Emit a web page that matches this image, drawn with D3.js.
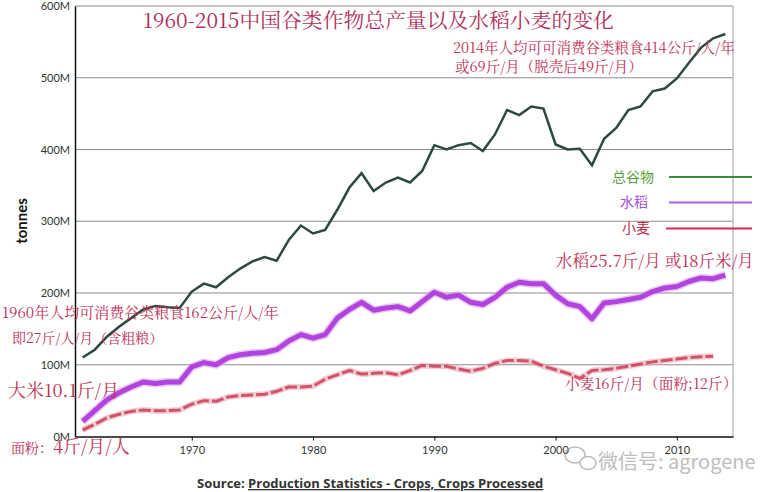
<!DOCTYPE html>
<html><head><meta charset="utf-8">
<script src="https://cdn.jsdelivr.net/npm/d3@7"></script>
<style>
html,body{margin:0;padding:0;background:#fff;}
svg{display:block;}
</style></head>
<body>
<svg id="chart" width="772" height="492"></svg>
<script>
const years = d3.range(1961, 2015);
const totalCereals = [110,121,139,153,165,177,182,180,179,202,213,208,222,234,244,250,245,274,294,283,288,316,347,367,342,354,361,354,370,406,400,406,409,398,421,455,448,460,457,407,400,401,378,415,430,455,460,481,485,499,521,542,555,561];
const rice = [21,36,51,61,69,76,74,76,76,97,103,100,110,114,116,117,121,133,142,137,142,165,177,187,176,179,181,175,188,201,194,197,187,184,194,208,215,213,213,197,185,181,164,186,188,191,194,202,207,209,216,221,220,225];
const wheatYears = d3.range(1961, 2014);
const wheat = [9,17,26,31,35,37,36,36,37,45,50,49,55,57,58,59,63,69,69,70,80,86,92,87,88,89,86,92,99,98,98,94,91,95,102,106,106,105,98,93,88,81,92,93,95,98,101,104,106,108,110,111,112];
const yTicks = [0,100,200,300,400,500,600];
const xTicks = [1970,1980,1990,2000,2010];
const legendLabels = ["总谷物","水稻","小麦"];

const svg = d3.select("#chart");
const L = 75, R = 733, T = 6, B = 436.5;
const x = d3.scaleLinear().domain([1960.37, 2014.63]).range([L, R]);
const y = d3.scaleLinear().domain([0, 600]).range([B, T]);

// gridlines
svg.append("g").selectAll("line").data(yTicks.filter(d => d > 0)).join("line")
  .attr("x1", L).attr("x2", R).attr("y1", d => y(d)).attr("y2", d => y(d))
  .attr("stroke", "#8c8c8c").attr("stroke-width", 1.2);
// right frame
svg.append("line").attr("x1", R).attr("x2", R).attr("y1", T).attr("y2", B)
  .attr("stroke", "#b0b0b0").attr("stroke-width", 1.2);

// axes
const yAxis = d3.axisLeft(y).tickValues(yTicks).tickFormat(d => d + "M").tickSize(0).tickPadding(5);
const gy = svg.append("g").attr("transform", `translate(${L},0)`).call(yAxis);
gy.select(".domain").attr("stroke", "#111").attr("stroke-width", 1.5);
gy.selectAll("text").attr("font-family", "Lato, sans-serif").attr("font-size", 11).attr("fill", "#333");

const xAxis = d3.axisBottom(x).tickValues(xTicks).tickFormat(d3.format("d")).tickSize(4).tickSizeOuter(0).tickPadding(6);
const gx = svg.append("g").attr("transform", `translate(0,${B})`).call(xAxis);
gx.select(".domain").attr("stroke", "#111").attr("stroke-width", 1.5);
gx.selectAll(".tick line").attr("stroke", "#111");
gx.selectAll("text").attr("font-family", "Lato, sans-serif").attr("font-size", 11).attr("fill", "#333");

// y title
svg.append("text").attr("transform", "translate(27,221) rotate(-90)")
  .attr("text-anchor", "middle").attr("font-family", "Lato, sans-serif")
  .attr("font-weight", "bold").attr("font-size", 15).attr("fill", "#111").text("tonnes");

const line = d3.line().x(d => x(d[0])).y(d => y(d[1]));
const totData = years.map((yr, i) => [yr, totalCereals[i]]);
const riceData = years.map((yr, i) => [yr, rice[i]]);
const wheatData = wheatYears.map((yr, i) => [yr, wheat[i]]);

// wheat
svg.append("path").datum(wheatData).attr("d", line).attr("fill", "none")
  .attr("stroke", "#eba3b2").attr("stroke-width", 6).attr("opacity", 0.55)
  .attr("stroke-linejoin", "round");
svg.append("path").datum(wheatData).attr("d", line).attr("fill", "none")
  .attr("stroke", "#c8344d").attr("stroke-width", 3).attr("stroke-dasharray", "12,3")
  .attr("opacity", 0.8).attr("stroke-linejoin", "round");
// rice
svg.append("path").datum(riceData).attr("d", line).attr("fill", "none")
  .attr("stroke", "#dda2f2").attr("stroke-width", 8).attr("opacity", 0.6)
  .attr("stroke-linejoin", "round");
svg.append("path").datum(riceData).attr("d", line).attr("fill", "none")
  .attr("stroke", "#b044dc").attr("stroke-width", 5).attr("stroke-linejoin", "round");
// total
svg.append("path").datum(totData).attr("d", line).attr("fill", "none")
  .attr("stroke", "#2c4a3e").attr("stroke-width", 2.5).attr("stroke-linejoin", "miter");

// legend
const legColors = ["#3a8a3a", "#b060e0", "#d02a50"];
const legText = ["#5aa03a", "#a050d8", "#c02848"];
const legY = [177, 202.5, 228.5];
const legTx = [612, 620, 622];
legendLabels.forEach((lab, i) => {
  svg.append("text").attr("x", legTx[i]).attr("y", legY[i] + 4.5)
    .attr("font-family", "Noto Sans CJK SC, sans-serif").attr("font-size", 14)
    .attr("fill", legText[i]).text(lab);
  svg.append("line").attr("x1", i === 2 ? 666 : 669).attr("x2", 752)
    .attr("y1", legY[i]).attr("y2", legY[i])
    .attr("stroke", legColors[i]).attr("stroke-width", 2.2);
});

// title and annotations
const serif = "'Noto Serif CJK SC', 'Liberation Serif', 'DejaVu Serif', 'Noto Sans CJK SC', serif";
function ann(tx, ty, size, txt, color) {
  return svg.append("text").attr("x", tx).attr("y", ty).attr("font-family", serif)
    .attr("font-size", size).attr("fill", color || "#c03058").text(txt);
}
ann(143, 28, 20.8, "1960-2015中国谷类作物总产量以及水稻小麦的变化", "#b0305c");
ann(453, 53, 14.5, "2014年人均可可消费谷类粮食414公斤/人/年");
ann(455, 72, 14.5, "或69斤/月（脱壳后49斤/月）");
ann(2, 318, 15, "1960年人均可消费谷类粮食162公斤/人/年");
ann(12, 343, 14, "即27斤/人/月（含粗粮）");
ann(8, 397, 18, "大米10.1斤/月", "#b83050");
const mf = ann(11, 453, 14, "面粉：", "#c03058");
mf.append("tspan").attr("font-size", 18).text("4斤/月/人");
ann(556, 267, 16.5, "水稻25.7斤/月 或18斤米/月");
ann(565, 389, 14.7, "小麦16斤/月（面粉;12斤）");

// watermark
const wm = svg.append("g").attr("opacity", 0.55);
wm.append("ellipse").attr("cx", 575).attr("cy", 455).attr("rx", 10).attr("ry", 8)
  .attr("fill", "none").attr("stroke", "#888").attr("stroke-width", 1.5);
wm.append("ellipse").attr("cx", 588).attr("cy", 463).attr("rx", 8).attr("ry", 6.5)
  .attr("fill", "#fff").attr("stroke", "#888").attr("stroke-width", 1.5);
wm.append("text").attr("x", 598).attr("y", 469).attr("font-family", "Noto Sans CJK SC, sans-serif")
  .attr("font-size", 20).attr("fill", "#888").text("微信号: agrogene");

// source
const src = svg.append("text").attr("x", 197).attr("y", 488)
  .attr("font-family", "'Open Sans', sans-serif").attr("font-weight", "bold")
  .attr("font-size", 13).attr("fill", "#333");
src.append("tspan").text("Source: ");
src.append("tspan").attr("text-decoration", "underline").text("Production Statistics - Crops, Crops Processed");
</script>
</body></html>
